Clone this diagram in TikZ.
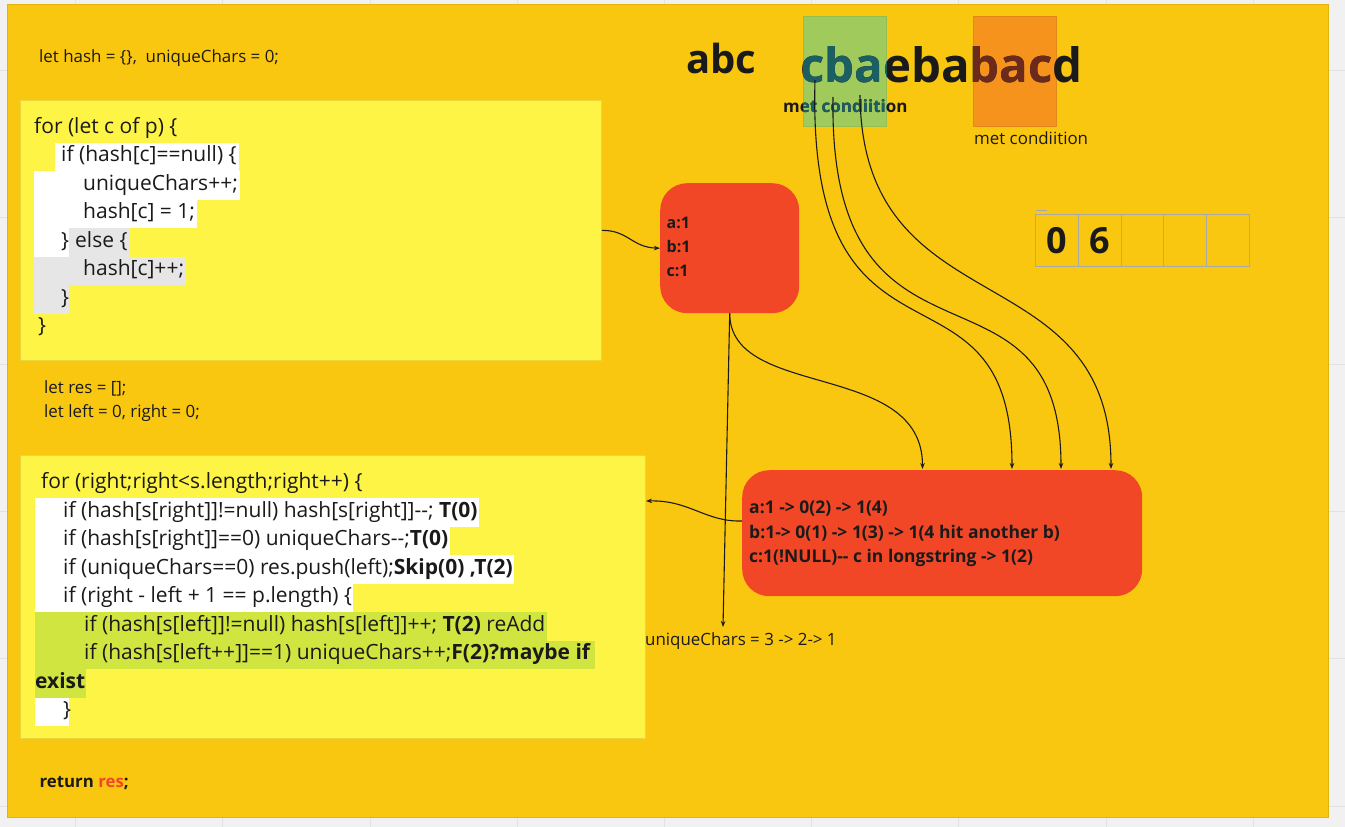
\documentclass[tikz,border=0pt]{standalone}
\usepackage{fontspec}
\setmainfont{Open Sans}[Ligatures=TeXOff]
\usetikzlibrary{arrows.meta,calc}
\definecolor{cframe}{HTML}{FAC710}
\definecolor{cframeline}{HTML}{E3B40C}
\definecolor{csticky}{HTML}{FEF445}
\definecolor{cstickyline}{HTML}{EAD63A}
\definecolor{cred}{HTML}{F24726}
\definecolor{cink}{HTML}{1A1A1A}
\definecolor{chlgray}{HTML}{E6E6E6}
\definecolor{chlgreen}{HTML}{D0E540}
\definecolor{cgreenrect}{HTML}{A0CB5C}
\definecolor{cgreenline}{HTML}{94BD52}
\definecolor{corange}{HTML}{F5931C}
\definecolor{corangeline}{HTML}{E38818}
\definecolor{ctealink}{HTML}{1B5F64}
\definecolor{cbrownink}{HTML}{6B2A1A}
\definecolor{cgridbg}{HTML}{F1F1F1}
\definecolor{cgridline}{HTML}{E2E2E2}
\definecolor{ccell}{HTML}{A8A8A8}
\pgfdeclarelayer{back}
\pgfdeclarelayer{hl}
\pgfsetlayers{back,hl,main}
\begin{document}
\begin{tikzpicture}[x=1pt,y=-1pt,
  code/.style={anchor=base west, inner sep=0pt, text=cink, font=\fontsize{21}{25}\selectfont},
  note/.style={anchor=base west, inner sep=0pt, text=cink, font=\fontsize{16.9}{20}\selectfont},
  hashtxt/.style={anchor=base west, inner sep=0pt, text=cink, font=\bfseries\fontsize{16}{19}\selectfont},
  maptxt/.style={anchor=base west, inner sep=0pt, text=cink, font=\bfseries\fontsize{17.5}{21}\selectfont},
  bigword/.style={anchor=base west, inner sep=0pt, text=cink, font=\bfseries\fontsize{47.4}{52}\selectfont},
  stickybox/.style={fill=csticky, draw=cstickyline, line width=0.8pt, anchor=north west, inner sep=0pt},
  redbox/.style={fill=cred, rounded corners=27pt, anchor=north west, inner sep=0pt},
  conn/.style={draw=cink, line width=1.1pt, -{Stealth[length=6pt,width=4.5pt]}},
  cellbox/.style={draw=ccell, line width=1pt, minimum width=42.8pt, minimum height=52pt, inner sep=0pt, anchor=north west},
  digit/.style={font=\bfseries\fontsize{36}{40}\selectfont, text=cink, inner sep=0pt}
]
\useasboundingbox (0,0) rectangle (1345,827);
\begin{pgfonlayer}{back}
\fill[cgridbg] (0,0) rectangle (1345,827);
\foreach \gx in {75.7,222.9,370.1,517.3,664.5,811.7,958.9,1106.1,1253.3}
  \draw[cgridline, line width=1pt] (\gx,0) -- (\gx,827);
\foreach \gy in {70,217.2,364.4,511.6,658.8,806}
  \draw[cgridline, line width=1pt] (0,\gy) -- (1345,\gy);
\node[fill=cframe, draw=cframeline, line width=0.8pt, anchor=north west, inner sep=0pt,
      minimum width=1321pt, minimum height=813pt] (frame) at (7,4) {};
\node[stickybox, minimum width=581pt, minimum height=260pt] (box1) at (20,100) {};
\node[stickybox, minimum width=625pt, minimum height=283pt] (box2) at (20,455) {};
\end{pgfonlayer}

% top texts
\node[note] (lethash) at (39,62.5) {let hash = \{\},\ \ uniqueChars = 0;};
\node[note] (letres) at (44,393) {let res = [];};
\node[note] (letlr) at (44,417) {let left = 0, right = 0;};
\node[anchor=base west, inner sep=0pt, text=cink, font=\bfseries\fontsize{16.8}{20}\selectfont] (ret) at (39.5,787) {return \textcolor{cred}{res};};

% code block 1
\node[code] (f1) at (34,133) {for (let c of p) \{};
\node[code] (f2) at (61,161.5) {if (hash[c]==null) \{};
\node[code] (f3) at (83,190) {uniqueChars++;};
\node[code] (f4) at (83,218.5) {hash[c] = 1;};
\node[code] (f5a) at (61,247) {\}};
\node[code] (f5b) at (75,247) {else \{};
\node[code] (f6) at (83,275.5) {hash[c]++;};
\node[code] (f7) at (61,304) {\}};
\node[code] (f8) at (38,332.5) {\}};
\begin{pgfonlayer}{hl}
\fill[white] (55,142.5) rectangle ($(f2.east |- 0,171)+(2,0)$);
\fill[white] (34,171) rectangle ($(f3.east |- 0,199.5)+(2,0)$);
\fill[white] (34,199.5) rectangle ($(f4.east |- 0,228)+(2,0)$);
\fill[white] (34,228) rectangle (69,256.5);
\fill[chlgray] (69,228) rectangle ($(f5b.east |- 0,256.5)+(2,0)$);
\fill[chlgray] (34,256.5) rectangle ($(f6.east |- 0,285)+(2,0)$);
\fill[chlgray] (34,285) rectangle (69,313.5);
\end{pgfonlayer}

% code block 2
\node[code] (g1) at (41,488.5) {for (right;right<s.length;right++) \{};
\node[code] (g2) at (63,517) {if (hash[s[right]]!=null) hash[s[right]]--; \textbf{T(0)}};
\node[code] (g3) at (63,545.5) {if (hash[s[right]]==0) uniqueChars--;\textbf{T(0)}};
\node[code] (g4) at (63,574) {if (uniqueChars==0) res.push(left);\textbf{Skip(0) ,T(2)}};
\node[code] (g5) at (63,602.5) {if (right - left + 1 == p.length) \{};
\node[code] (g6) at (84,631) {if (hash[s[left]]!=null) hash[s[left]]++; \textbf{T(2)} reAdd};
\node[code] (g7) at (84,659.5) {if (hash[s[left++]]==1) uniqueChars++;\textbf{F(2)?maybe if}};
\node[code] (g8) at (35,688) {\textbf{exist}};
\node[code] (g9) at (63,716.5) {\}};
\begin{pgfonlayer}{hl}
\fill[white] (35,498) rectangle ($(g2.east |- 0,526.5)+(1,0)$);
\fill[white] (35,526.5) rectangle ($(g3.east |- 0,555)+(1,0)$);
\fill[white] (35,555) rectangle ($(g4.east |- 0,583.5)+(1,0)$);
\fill[white] (35,583.5) rectangle ($(g5.east |- 0,612)+(1,0)$);
\fill[chlgreen] (35,612) rectangle ($(g6.east |- 0,640.5)+(1,0)$);
\fill[chlgreen] (35,640.5) rectangle ($(g7.east |- 0,669)+(4,0)$);
\fill[chlgreen] (35,669) rectangle ($(g8.east |- 0,697.5)+(1,0)$);
\fill[white] (35,697.5) rectangle (69,726);
\end{pgfonlayer}

% strings
\node[anchor=base west, inner sep=0pt, text=cink, font=\bfseries\fontsize{40}{44}\selectfont] (pat) at (686,73) {abc};
\fill[cgreenrect, draw=cgreenline, line width=0.8pt] (803,16) rectangle (886,126);
\fill[corange, draw=corangeline, line width=0.8pt] (973,16) rectangle (1056.5,126);
\node[bigword] (str) at (800,82) {cbaebabacd};
\node[anchor=base west, inner sep=0pt, text=cink, font=\bfseries\fontsize{17}{20}\selectfont] (met1) at (783,112) {met condiition};
\begin{scope}
\clip (803,16) rectangle (886,126);
\node[bigword, text=ctealink] (strg) at (800,82) {cbaebabacd};
\node[anchor=base west, inner sep=0pt, text=ctealink, font=\bfseries\fontsize{17}{20}\selectfont] (met1g) at (783,112) {met condiition};
\end{scope}
\begin{scope}
\clip (973,16) rectangle (1053.5,126);
\node[bigword, text=cbrownink] (stro) at (800,82) {cbaebabacd};
\end{scope}
\node[anchor=base west, inner sep=0pt, text=cink, font=\fontsize{16.9}{20}\selectfont] (met2) at (974,144) {met condiition};

% array
\draw[ccell, line width=0.5pt] (1036,210.5) -- (1047,210.5);
\foreach \i in {0,...,4}
  \node[cellbox] (cell\i) at (1035+42.8*\i,214) {};
\node[digit] (d0) at (cell0.center) {0};
\node[digit] (d1) at (cell1.center) {6};

% red boxes
\node[redbox, minimum width=139pt, minimum height=130pt] (hashbox) at (660,183) {};
\node[hashtxt] (ha) at (666.5,228) {a:1};
\node[hashtxt] (hb) at (666.5,252) {b:1};
\node[hashtxt] (hc) at (666.5,276) {c:1};
\node[redbox, minimum width=400pt, minimum height=126pt] (bigbox) at (742,470) {};
\node[maptxt] (ma) at (749,513) {a:1 -> 0(2) -> 1(4)};
\node[maptxt] (mb) at (749,538) {b:1-> 0(1) -> 1(3) -> 1(4 hit another b)};
\node[maptxt] (mc) at (749,562) {c:1(!NULL)-- c in longstring -> 1(2)};
\node[anchor=base west, inner sep=0pt, text=cink, font=\fontsize{16.9}{20}\selectfont] (uc) at (645,645) {uniqueChars = 3 -> 2-> 1};

% connector end points
\coordinate (s1) at (815,80);
\coordinate (s2) at (833,97);
\coordinate (s3) at (860,95);
\coordinate (t0) at (922.5,469);
\coordinate (t1) at (1012,469);
\coordinate (t2) at (1061,469);
\coordinate (t3) at (1111,469);
\coordinate (ucin) at (723,627);
\coordinate (bout) at (742,521);
\coordinate (b2in) at (646,501);

% connectors
\draw[conn] (box1.east) .. controls (628,230) and (632,247.5) .. (hashbox.west);
\draw[conn] (hashbox.south) -- (ucin);
\draw[conn] (hashbox.south) .. controls (730,400) and (922.5,360) .. (t0);
\draw[conn] (s1) .. controls (806,400) and (1012,240) .. (t1);
\draw[conn] (s2) .. controls (828,400) and (1061,240) .. (t2);
\draw[conn] (s3) .. controls (862,330) and (1111,250) .. (t3);
\draw[conn] (bout) .. controls (705,522) and (690,500) .. (b2in);
\end{tikzpicture}
\end{document}
